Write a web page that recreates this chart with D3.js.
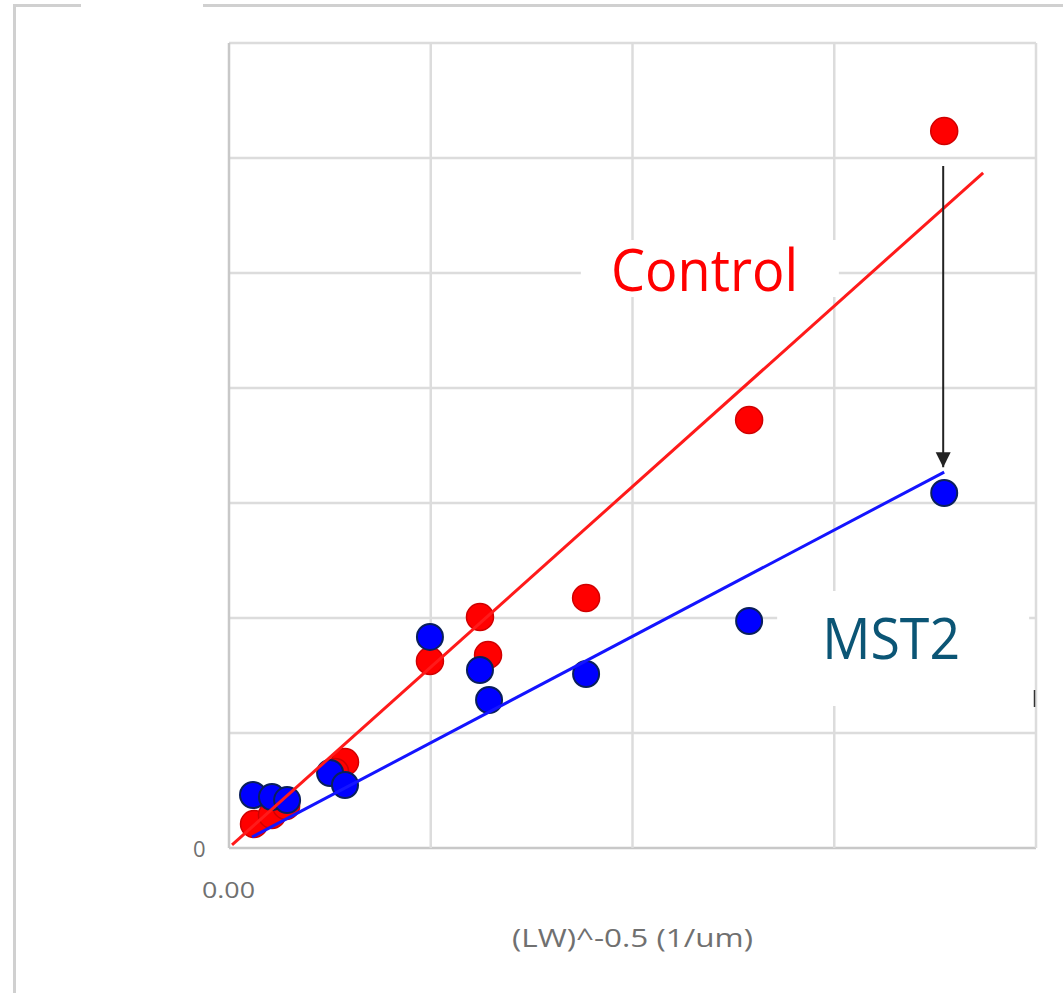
<!DOCTYPE html>
<html>
<head>
<meta charset="utf-8">
<script src="https://cdn.jsdelivr.net/npm/d3@7"></script>
<style>
  body { margin: 0; background: #fff; }
  svg { display: block; }
</style>
</head>
<body>
<div id="box1"></div>
<script>
// Control (red) points
var controlX = [3.545, 2.578, 1.770, 1.244, 1.284, 0.996, 0.575, 0.526, 0.124, 0.213, 0.283];
var controlY = [6.235, 3.722, 2.174, 2.009, 1.678, 1.626, 0.748, 0.661, 0.209, 0.287, 0.365];
// MST2 (blue) points
var mstX = [3.545, 2.578, 1.770, 1.244, 1.289, 0.996, 0.501, 0.575, 0.119, 0.213, 0.288];
var mstY = [3.087, 1.974, 1.513, 1.548, 1.287, 1.835, 0.652, 0.548, 0.461, 0.443, 0.417];
// trendlines: [slope, intercept], [xStart, xEnd]
var controlFit = [1.570, 0.003];
var controlFitRange = [0.015, 3.738];
var mstFit = [0.925, -0.010];
var mstFitRange = [0.114, 3.545];
// arrow annotation: x, y from, y to
var arrowAt = [3.54, 5.93, 3.31];
var xTicks = [0, 1, 2, 3, 4];
var yTicks = [0, 1, 2, 3, 4, 5, 6, 7];
var xTickLabel = "0.00";
var yTickLabel = "0";
var xTitle = "(LW)^-0.5 (1/um)";

document.addEventListener("DOMContentLoaded", function(e) {
    chart1();
});

function chart1(){
    var width = 1063;
    var height = 993;
    var left = 229, right = 1036, top = 43, bottom = 848;

    var svg = d3.select("#box1")
        .append("svg")
        .attr("width", width)
        .attr("height", height);

    var x = d3.scaleLinear().domain([0, 4]).range([left, right]);
    var y = d3.scaleLinear().domain([0, 7]).range([bottom, top]);

    // outer frame of the pasted picture
    svg.append("path")
        .attr("d", "M14.5," + height + " V5.5 H" + width)
        .attr("fill", "none")
        .attr("stroke", "#d0d0d0")
        .attr("stroke-width", 3);
    svg.append("rect")
        .attr("x", 81).attr("y", 3).attr("width", 122).attr("height", 5)
        .attr("fill", "#fff");

    // gridlines
    svg.append("g")
        .selectAll("line")
        .data(yTicks)
        .join("line")
        .attr("x1", left).attr("x2", right)
        .attr("y1", function(d){ return y(d); })
        .attr("y2", function(d){ return y(d); })
        .attr("stroke", function(d){ return d == 0 ? "#c8c8c8" : "#dcdcdc"; })
        .attr("stroke-width", 2.5);
    svg.append("g")
        .selectAll("line")
        .data(xTicks)
        .join("line")
        .attr("y1", top).attr("y2", bottom)
        .attr("x1", function(d){ return x(d); })
        .attr("x2", function(d){ return x(d); })
        .attr("stroke", function(d){ return d == 0 ? "#c8c8c8" : "#dcdcdc"; })
        .attr("stroke-width", 2.5);

    // tick labels (only the origin is labelled)
    svg.append("text")
        .attr("x", x(0) - 36).attr("y", y(0) + 9)
        .attr("font-family", "Open Sans, sans-serif")
        .attr("font-size", 22)
        .attr("fill", "#707070")
        .text(yTickLabel);
    svg.append("text")
        .attr("x", x(0) - 27).attr("y", y(0) + 50)
        .attr("font-family", "Open Sans, sans-serif")
        .attr("font-size", 22)
        .attr("fill", "#707070")
        .attr("textLength", 53)
        .attr("lengthAdjust", "spacingAndGlyphs")
        .text(xTickLabel);
    svg.append("text")
        .attr("x", 512).attr("y", 947)
        .attr("font-family", "Open Sans, sans-serif")
        .attr("font-size", 25)
        .attr("fill", "#707070")
        .attr("textLength", 241)
        .attr("lengthAdjust", "spacingAndGlyphs")
        .text(xTitle);

    // white boxes behind the labels
    svg.append("rect")
        .attr("x", x(1.744)).attr("y", y(5.287))
        .attr("width", 258).attr("height", 57)
        .attr("fill", "#fff");
    svg.append("rect")
        .attr("x", x(2.717)).attr("y", y(2.235))
        .attr("width", 252).attr("height", 115)
        .attr("fill", "#fff");
    svg.append("line")
        .attr("x1", 1034.5).attr("x2", 1034.5)
        .attr("y1", 690).attr("y2", 707)
        .attr("stroke", "#333").attr("stroke-width", 1.5);

    var control = controlX.map(function(v, i){ return [v, controlY[i]]; });
    var mst = mstX.map(function(v, i){ return [v, mstY[i]]; });

    svg.append("g")
        .selectAll("circle")
        .data(control)
        .join("circle")
        .attr("cx", function(d){ return x(d[0]); })
        .attr("cy", function(d){ return y(d[1]); })
        .attr("r", 13.5)
        .attr("fill", "#ff0000")
        .attr("stroke", "#d00000")
        .attr("stroke-width", 1.5);

    svg.append("g")
        .selectAll("circle")
        .data(mst)
        .join("circle")
        .attr("cx", function(d){ return x(d[0]); })
        .attr("cy", function(d){ return y(d[1]); })
        .attr("r", 13)
        .attr("fill", "#0000ff")
        .attr("stroke", "#0a1f5c")
        .attr("stroke-width", 2);

    // trendlines
    var line = d3.line()
        .x(function(d){ return x(d[0]); })
        .y(function(d){ return y(d[1]); });
    svg.append("path")
        .datum(controlFitRange.map(function(v){ return [v, controlFit[0] * v + controlFit[1]]; }))
        .attr("d", line)
        .attr("fill", "none")
        .attr("stroke", "#ff1a1a")
        .attr("stroke-width", 3);
    svg.append("path")
        .datum(mstFitRange.map(function(v){ return [v, mstFit[0] * v + mstFit[1]]; }))
        .attr("d", line)
        .attr("fill", "none")
        .attr("stroke", "#1414ff")
        .attr("stroke-width", 3);

    // arrow
    svg.append("defs").append("marker")
        .attr("id", "head")
        .attr("viewBox", "0 0 10 10")
        .attr("refX", 10).attr("refY", 5)
        .attr("markerWidth", 7.5).attr("markerHeight", 8.5)
        .attr("markerUnits", "strokeWidth")
        .attr("orient", "auto")
        .append("path")
        .attr("d", "M0,0 L10,5 L0,10 z")
        .attr("fill", "#222");
    svg.append("line")
        .attr("x1", x(arrowAt[0])).attr("x2", x(arrowAt[0]))
        .attr("y1", y(arrowAt[1])).attr("y2", y(arrowAt[2]))
        .attr("stroke", "#222")
        .attr("stroke-width", 2)
        .attr("marker-end", "url(#head)");

    // labels
    svg.append("text")
        .attr("x", x(1.894)).attr("y", y(4.843))
        .attr("font-family", "Open Sans, sans-serif")
        .attr("font-size", 59)
        .attr("fill", "#ff0000")
        .attr("textLength", 187)
        .attr("lengthAdjust", "spacingAndGlyphs")
        .text("Control");
    svg.append("text")
        .attr("x", x(2.940)).attr("y", y(1.643))
        .attr("font-family", "Open Sans, sans-serif")
        .attr("font-size", 57)
        .attr("fill", "#0b5575")
        .attr("textLength", 138)
        .attr("lengthAdjust", "spacingAndGlyphs")
        .text("MST2");
}
</script>
</body>
</html>
